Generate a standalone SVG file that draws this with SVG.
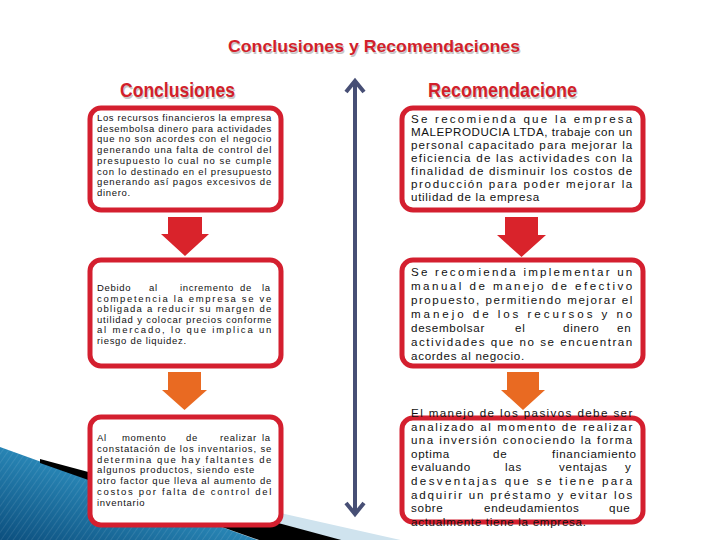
<svg xmlns="http://www.w3.org/2000/svg" width="720" height="540" viewBox="0 0 720 540">
<style>
.ttl{font-family:"Liberation Sans",Arial,sans-serif;font-weight:bold;fill:#d21f2b}
.sh{font-family:"Liberation Sans",Arial,sans-serif;font-weight:bold;fill:#9a9a9a;opacity:.55}
.box{fill:#ffffff;stroke:#d41f2f;stroke-width:5}
.tl{font-family:"Liberation Sans",Arial,sans-serif;font-size:9.5px;letter-spacing:0.7px;fill:#111}
.tr{font-family:"Liberation Sans",Arial,sans-serif;font-size:11.6px;letter-spacing:0.7px;fill:#111}
.red{fill:#d9232b}
.org{fill:#e96a22}
.axis{fill:none;stroke:#474f75;stroke-width:4}
</style>
<defs>
<linearGradient id="teal" x1="0" y1="1" x2="1" y2="0">
<stop offset="0" stop-color="#0c4f7e"/>
<stop offset="0.6" stop-color="#2d8fbf"/>
<stop offset="1" stop-color="#52b0d6"/>
</linearGradient>
<pattern id="stripes" width="5" height="5" patternUnits="userSpaceOnUse" patternTransform="rotate(35)">
<line x1="0" y1="0" x2="0" y2="5" stroke="#ffffff" stroke-width="1" opacity="0.18"/>
</pattern>
</defs>
<rect width="720" height="540" fill="#ffffff"/>
<g id="background">
<polygon points="200,495 405,541 200,541" fill="#cfe3ee"/>
<polygon points="0,447 260,541 0,541" fill="url(#teal)"/>
<polygon points="0,447 260,541 0,541" fill="url(#stripes)"/>
<polygon points="40,459 345,541 262,541 40,463" fill="#000000"/>
</g>
<g id="title">
<text class="sh" x="375" y="53.5" font-size="17" text-anchor="middle" textLength="292" lengthAdjust="spacingAndGlyphs">Conclusiones y Recomendaciones</text>
<text class="ttl" x="374" y="52" font-size="17" text-anchor="middle" textLength="292" lengthAdjust="spacingAndGlyphs">Conclusiones y Recomendaciones</text>
</g>
<g id="head-conclusiones">
<text class="sh" x="121" y="98.5" font-size="19.5" textLength="115" lengthAdjust="spacingAndGlyphs">Conclusiones</text>
<text class="ttl" x="120" y="97" font-size="19.5" textLength="115" lengthAdjust="spacingAndGlyphs">Conclusiones</text>
</g>
<g id="head-recomendaciones">
<text class="sh" x="429" y="98.5" font-size="19.5" textLength="149" lengthAdjust="spacingAndGlyphs">Recomendacione</text>
<text class="ttl" x="428" y="97" font-size="19.5" textLength="149" lengthAdjust="spacingAndGlyphs">Recomendacione</text>
</g>
<g id="conclusion-1">
<rect class="box" x="90" y="108" width="191" height="102" rx="11"/>
<text class="tl" x="97" y="121" textLength="175" lengthAdjust="spacing">Los recursos financieros la empresa</text>
<text class="tl" x="97" y="131.7" textLength="175" lengthAdjust="spacing">desembolsa dinero para actividades</text>
<text class="tl" x="97" y="142.4" textLength="175" lengthAdjust="spacing">que no son acordes con el negocio</text>
<text class="tl" x="97" y="153.1" textLength="175" lengthAdjust="spacing">generando una falta de control del</text>
<text class="tl" x="97" y="163.8" textLength="175" lengthAdjust="spacing">presupuesto lo cual no se cumple</text>
<text class="tl" x="97" y="174.5" textLength="175" lengthAdjust="spacing">con lo destinado en el presupuesto</text>
<text class="tl" x="97" y="185.2" textLength="175" lengthAdjust="spacing">generando así pagos excesivos de</text>
<text class="tl" x="97" y="196">dinero.</text>
</g>
<g id="conclusion-2">
<rect class="box" x="90" y="260" width="191" height="106" rx="11"/>
<text class="tl" y="291"><tspan x="97">Debido</tspan><tspan x="149">al</tspan><tspan x="180">incremento</tspan><tspan x="240">de</tspan><tspan x="262">la</tspan></text>
<text class="tl" x="97" y="301.6" textLength="175" lengthAdjust="spacing">competencia la empresa se ve</text>
<text class="tl" x="97" y="312.2" textLength="175" lengthAdjust="spacing">obligada a reducir su  margen de</text>
<text class="tl" x="97" y="322.8" textLength="175" lengthAdjust="spacing">utilidad y colocar precios conforme</text>
<text class="tl" x="97" y="333.4" textLength="175" lengthAdjust="spacing">al mercado, lo que implica un</text>
<text class="tl" x="97" y="344">riesgo de liquidez.</text>
</g>
<g id="conclusion-3">
<rect class="box" x="90" y="417" width="191" height="108" rx="11"/>
<text class="tl" y="441"><tspan x="97">Al</tspan><tspan x="122">momento</tspan><tspan x="186">de</tspan><tspan x="220">realizar</tspan><tspan x="262">la</tspan></text>
<text class="tl" x="97" y="451.8" textLength="175" lengthAdjust="spacing">constatación de los  inventarios, se</text>
<text class="tl" x="97" y="462.6" textLength="175" lengthAdjust="spacing">determina que hay faltantes de</text>
<text class="tl" x="97" y="473.4" textLength="158" lengthAdjust="spacing">algunos productos, siendo este</text>
<text class="tl" x="97" y="484.2" textLength="175" lengthAdjust="spacing">otro factor que lleva al aumento de</text>
<text class="tl" x="97" y="495" textLength="175" lengthAdjust="spacing">costos por falta de control del</text>
<text class="tl" x="97" y="505.8">inventario</text>
</g>
<g id="recomendacion-1">
<rect class="box" x="402" y="108" width="241" height="102" rx="11"/>
<text class="tr" x="411" y="123" textLength="222" lengthAdjust="spacing">Se recomienda que la empresa</text>
<text class="tr" x="411" y="136" textLength="222" lengthAdjust="spacing">MALEPRODUCIA LTDA, trabaje con un</text>
<text class="tr" x="411" y="149" textLength="222" lengthAdjust="spacing">personal capacitado para mejorar la</text>
<text class="tr" x="411" y="162" textLength="222" lengthAdjust="spacing">eficiencia de las actividades con la</text>
<text class="tr" x="411" y="175" textLength="222" lengthAdjust="spacing">finalidad de disminuir los costos de</text>
<text class="tr" x="411" y="188" textLength="222" lengthAdjust="spacing">producción para poder mejorar la</text>
<text class="tr" x="411" y="201">utilidad de la empresa</text>
</g>
<g id="recomendacion-2">
<rect class="box" x="402" y="260" width="241" height="106" rx="11"/>
<text class="tr" x="411" y="276" textLength="222" lengthAdjust="spacing">Se recomienda implementar un</text>
<text class="tr" x="411" y="290" textLength="222" lengthAdjust="spacing">manual de manejo de efectivo</text>
<text class="tr" x="411" y="304" textLength="222" lengthAdjust="spacing">propuesto, permitiendo mejorar el</text>
<text class="tr" x="411" y="318" textLength="222" lengthAdjust="spacing">manejo de los recursos y no</text>
<text class="tr" y="332"><tspan x="411">desembolsar</tspan><tspan x="515">el</tspan><tspan x="563">dinero</tspan><tspan x="617">en</tspan></text>
<text class="tr" x="411" y="346" textLength="222" lengthAdjust="spacing">actividades que no se encuentran</text>
<text class="tr" x="411" y="360">acordes al negocio.</text>
</g>
<g id="recomendacion-3">
<rect class="box" x="402" y="418" width="241" height="104" rx="11"/>
<text class="tr" x="411" y="417" textLength="222" lengthAdjust="spacing">El manejo de los pasivos debe ser</text>
<text class="tr" x="411" y="430.6" textLength="222" lengthAdjust="spacing">analizado al momento de realizar</text>
<text class="tr" x="411" y="444.2" textLength="222" lengthAdjust="spacing">una inversión conociendo la forma</text>
<text class="tr" y="457.8"><tspan x="411">optima</tspan><tspan x="493">de</tspan><tspan x="552">financiamiento</tspan></text>
<text class="tr" y="471.4"><tspan x="411">evaluando</tspan><tspan x="505">las</tspan><tspan x="559">ventajas</tspan><tspan x="625">y</tspan></text>
<text class="tr" x="411" y="485" textLength="222" lengthAdjust="spacing">desventajas que se tiene para</text>
<text class="tr" x="411" y="498.6" textLength="222" lengthAdjust="spacing">adquirir un préstamo y evitar los</text>
<text class="tr" y="512.2"><tspan x="411">sobre</tspan><tspan x="484">endeudamientos</tspan><tspan x="609">que</tspan></text>
<text class="tr" x="411" y="526">actualmente tiene la empresa.</text>
</g>
<g id="connectors">
<path class="red" d="M168,217 H202 V234 H209 L185,256 L161,234 H168 Z"/>
<path class="org" d="M168,372 H201 V390 H207 L184.5,410 L162,390 H168 Z"/>
<path class="red" d="M505,217 H538 V235 H546 L521.5,257 L497,235 H505 Z"/>
<path class="org" d="M507,372 H539 V390 H545 L523,410 L501,390 H507 Z"/>
<line class="axis" x1="355" y1="81" x2="355" y2="514"/>
<path class="axis" d="M346,92 L355,81 L364,92"/>
<path class="axis" d="M346,503 L355,514 L364,503"/>
</g>
</svg>
